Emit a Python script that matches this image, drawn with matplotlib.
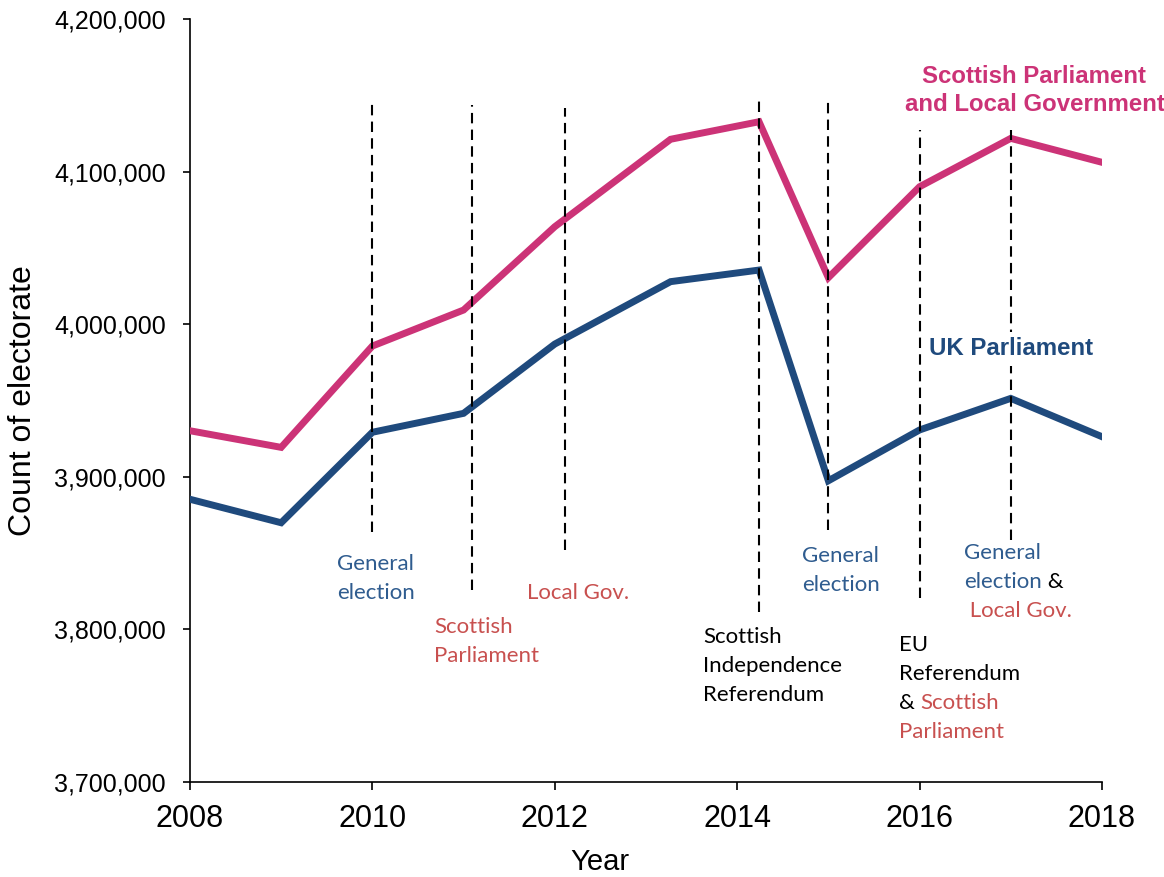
"""
Scottish electorate counts 2008-2018 with election / referendum markers.
"""

import matplotlib
matplotlib.use("Agg")
import matplotlib.pyplot as plt
from matplotlib.ticker import FuncFormatter

# values
years = [2008.0, 2009.0, 2010.0, 2011.0, 2012.0, 2013.27, 2014.24,
         2015.0, 2016.0, 2017.0, 2018.0]
scot_local = [3930200, 3919300, 3985700, 4009300, 4063900, 4121200, 4132700,
              4030500, 4090100, 4121800, 4106100]
uk_parl = [3885300, 3869900, 3929200, 3941600, 3987000, 4027900, 4035500,
           3897400, 3930700, 3951400, 3926300]

# dashed event markers (year, top, bottom)
event_years = [2010.0, 2011.09, 2012.11, 2014.24, 2015.0, 2016.0, 2017.0]
event_top = [4145000, 4143600, 4141700, 4146900, 4145600, 4127300, 4127300]
event_bottom = [3863800, 3825800, 3852000, 3811400, 3865100, 3820600, 3858600]

y_ticks = [3700000, 3800000, 3900000, 4000000, 4100000, 4200000]
x_ticks = [2008, 2010, 2012, 2014, 2016, 2018]

PINK = "#CC3377"
NAVY = "#1F4A7D"
TXT_BLUE = "#2F5C8F"
TXT_RED = "#C8504F"
TXT_BLACK = "#000000"

ARIAL = ["Liberation Sans", "DejaVu Sans"]
NOTE = ["Lato", "DejaVu Sans"]

plt.rcParams["font.family"] = ARIAL


def multiline(ax, x, y, lines, step=20.9, size=16, family=NOTE,
              weight="normal", ha="left", **kw):
    """Draw lines of coloured segments, first baseline at (x, y)."""
    out = []
    for i, segs in enumerate(lines):
        prev = None
        for text, color in segs:
            if prev is None:
                prev = ax.annotate(text, xy=(x, y), xytext=(0, -i * step),
                                   textcoords="offset points", va="baseline",
                                   ha=ha, color=color, fontsize=size,
                                   family=family, weight=weight,
                                   annotation_clip=False, **kw)
            else:
                prev = ax.annotate(text, xy=(1, 0), xycoords=prev,
                                   va="bottom", ha="left", color=color,
                                   fontsize=size, family=family,
                                   weight=weight, annotation_clip=False, **kw)
            out.append(prev)
    return out


fig = plt.figure(figsize=(11.64, 8.77), dpi=100)
ax = fig.add_axes([0.1632, 0.1083, 0.7835, 0.8700])

ax.plot(years, scot_local, color=PINK, linewidth=5, solid_joinstyle="miter",
        zorder=3)
ax.plot(years, uk_parl, color=NAVY, linewidth=5, solid_joinstyle="miter",
        zorder=3)

ax.vlines(event_years, event_bottom, event_top, colors="black",
          linestyles=(0, (5, 3)), linewidth=1.5, zorder=4)

ax.set_xlim(2008, 2018)
ax.set_ylim(3700000, 4200000)
ax.set_xticks(x_ticks)
ax.set_yticks(y_ticks)
ax.yaxis.set_major_formatter(FuncFormatter(lambda v, _: f"{int(v):,}"))

for side in ("top", "right"):
    ax.spines[side].set_visible(False)
for side in ("left", "bottom"):
    ax.spines[side].set_linewidth(1.2)

ax.tick_params(axis="y", direction="out", length=5.3, width=1.2, pad=12,
               labelsize=18)
ax.tick_params(axis="x", direction="out", length=6, width=1.2, pad=10,
               labelsize=22)
ax.set_ylabel("Count of electorate", fontsize=23, labelpad=12)
ax.set_xlabel("Year", fontsize=21)
ax.xaxis.set_label_coords(0.45, -0.086)

# series labels
multiline(ax, 2017.26, 4157860,
          [[("Scottish Parliament", PINK)],
           [("and Local Government", PINK)]],
          step=20.2, size=17.3, family=ARIAL, weight="bold", ha="center")
multiline(ax, 2017.0, 3979800, [[("UK Parliament", NAVY)]],
          size=17.3, family=ARIAL, weight="bold", ha="center",
          bbox=dict(facecolor="white", edgecolor="none", pad=4), zorder=5)

# event notes
multiline(ax, 2009.61, 3838930,
          [[("General", TXT_BLUE)], [("election", TXT_BLUE)]])
multiline(ax, 2010.68, 3797650,
          [[("Scottish", TXT_RED)], [("Parliament", TXT_RED)]])
multiline(ax, 2011.70, 3819730, [[("Local Gov.", TXT_RED)]])
multiline(ax, 2013.63, 3790900,
          [[("Scottish", TXT_BLACK)], [("Independence", TXT_BLACK)],
           [("Referendum", TXT_BLACK)]])
multiline(ax, 2014.71, 3844370,
          [[("General", TXT_BLUE)], [("election", TXT_BLUE)]])
multiline(ax, 2016.49, 3845940,
          [[("General", TXT_BLUE)],
           [("election", TXT_BLUE), (" &", TXT_BLACK)],
           [(" Local Gov.", TXT_RED)]])
multiline(ax, 2015.77, 3786050,
          [[("EU", TXT_BLACK)], [("Referendum", TXT_BLACK)],
           [("& ", TXT_BLACK), ("Scottish", TXT_RED)],
           [("Parliament", TXT_RED)]])

fig.savefig("out.png", dpi=100)
